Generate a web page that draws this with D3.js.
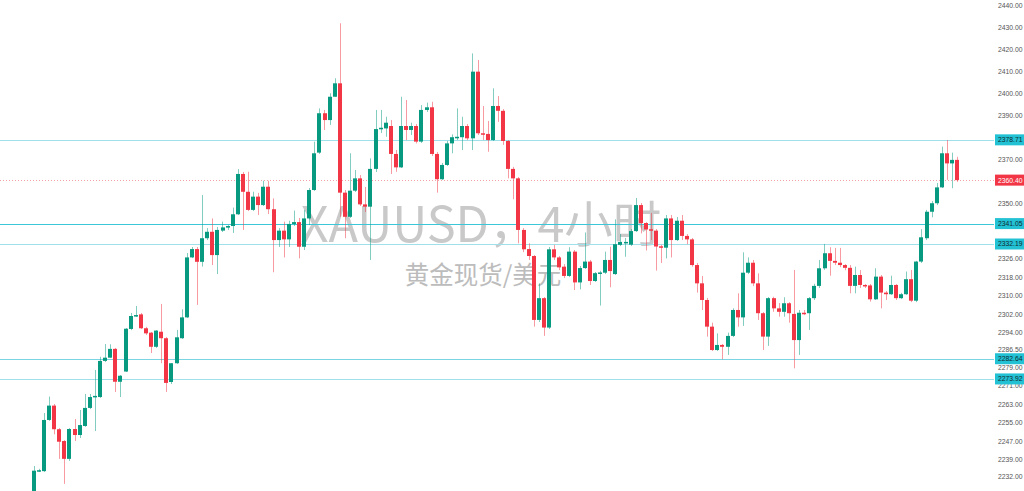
<!DOCTYPE html>
<html>
<head>
<meta charset="utf-8">
<script src="https://cdn.jsdelivr.net/npm/d3@7/dist/d3.min.js"></script>
<style>
  html, body { margin: 0; padding: 0; background: #ffffff; }
  svg { display: block; }
</style>
</head>
<body>
<svg id="chart" width="1024" height="491"></svg>
<script>
// ---- data (4H XAUUSD candles) ----
const opens = [
2221.7,2234.3,2234.1,2256.2,2262.4,2252.2,2247.1,2239.4,2252.3,2249.7,
2253.6,2261.4,2266.1,2266.1,2281.7,2283.1,2286.9,2272.7,2277.1,2295.5,
2301.1,2301.8,2295.8,2293.9,2287.8,2294.3,2291.5,2272.6,2280.7,2291.5,
2300.5,2326.4,2330.0,2324.5,2334.7,2337.5,2327.4,2338.0,2339.3,2340.0,
2345.1,2363.2,2355.1,2347.0,2352.9,2349.1,2357.4,2347.3,2333.9,2338.0,
2334.2,2340.9,2341.7,2331.0,2343.3,2355.9,2372.9,2390.8,2387.7,2398.3,
2404.4,2354.7,2344.0,2355.6,2361.2,2349.4,2348.4,2365.5,2383.5,2383.9,
2385.0,2372.3,2366.2,2385.0,2383.2,2385.0,2377.9,2392.3,2393.5,2372.3,
2360.8,2367.3,2377.1,2379.4,2379.9,2385.0,2379.4,2409.7,2381.7,2381.4,
2378.6,2394.1,2391.9,2378.2,2365.5,2361.2,2338.3,2330.0,2327.0,2299.4,
2308.8,2296.1,2329.9,2326.4,2322.4,2318.4,2328.9,2315.6,2321.8,2324.6,
2316.2,2319.7,2319.8,2325.3,2319.2,2331.8,2332.6,2331.9,2337.8,2349.1,
2341.3,2338.6,2338.0,2331.2,2330.6,2343.3,2333.9,2342.3,2335.7,2334.2,
2323.1,2315.2,2308.0,2296.5,2286.4,2288.6,2287.8,2292.5,2303.7,2300.5,
2319.8,2324.1,2315.2,2302.3,2292.2,2308.8,2304.4,2302.9,2306.6,2302.0,
2290.7,2302.5,2302.3,2308.8,2314.1,2321.7,2328.2,2324.9,2324.1,2323.1,
2321.9,2314.1,2318.8,2314.5,2314.3,2308.3,2318.1,2311.2,2310.5,2314.5,
2308.8,2310.5,2317.0,2307.7,2324.6,2334.7,2346.2,2349.9,2357.1,2372.6,
2368.0,2369.6];
const highs = [
2236.3,2235.1,2259.2,2266.3,2263.1,2252.7,2247.5,2252.7,2256.6,2260.5,
2267.4,2267.4,2277.8,2283.5,2289.0,2288.9,2287.3,2275.6,2295.9,2302.4,
2305.4,2302.4,2296.4,2294.2,2295.0,2306.3,2292.0,2280.8,2295.1,2304.0,
2328.3,2330.9,2330.9,2353.6,2339.1,2343.3,2339.6,2341.9,2340.4,2348.0,
2365.4,2364.1,2364.2,2355.1,2354.6,2360.1,2360.1,2352.1,2339.1,2341.9,
2342.3,2346.7,2343.5,2347.0,2356.8,2377.9,2393.0,2392.3,2399.9,2406.7,
2431.7,2355.9,2372.6,2365.0,2362.7,2357.3,2370.3,2392.3,2392.3,2389.2,
2387.7,2374.1,2398.3,2396.8,2386.5,2385.9,2394.5,2395.6,2396.0,2373.2,
2368.2,2378.2,2381.2,2393.0,2389.2,2385.9,2418.0,2415.0,2394.1,2387.3,
2402.1,2398.6,2392.7,2378.6,2366.4,2361.8,2339.1,2332.5,2327.4,2315.2,
2309.3,2330.9,2331.8,2327.0,2323.5,2330.8,2329.6,2322.7,2337.2,2325.3,
2320.1,2320.6,2328.9,2331.0,2342.9,2336.5,2334.8,2338.7,2352.3,2350.0,
2341.7,2345.7,2338.7,2331.8,2344.8,2344.8,2343.9,2344.8,2336.5,2334.8,
2324.0,2318.4,2308.9,2298.2,2293.6,2289.0,2293.9,2304.4,2310.9,2328.6,
2326.4,2325.3,2319.5,2302.8,2309.3,2309.4,2306.7,2309.2,2307.1,2321.0,
2303.7,2303.7,2309.3,2315.0,2325.3,2332.2,2330.8,2330.5,2330.5,2323.5,
2323.1,2322.4,2320.9,2314.9,2314.9,2321.7,2318.8,2311.9,2318.5,2314.9,
2311.1,2320.3,2321.0,2324.9,2338.6,2347.0,2350.9,2359.1,2375.6,2378.6,
2372.9,2371.0];
const lows = [
2219.5,2233.7,2233.7,2255.8,2250.0,2239.4,2228.6,2238.5,2247.1,2248.4,
2253.2,2260.9,2251.4,2265.7,2281.2,2283.0,2268.3,2266.1,2276.9,2295.0,
2300.7,2295.5,2292.9,2285.1,2287.3,2280.7,2268.3,2271.7,2280.4,2291.2,
2300.2,2326.1,2305.9,2322.4,2333.9,2323.1,2319.2,2337.4,2338.3,2337.0,
2344.8,2338.3,2346.5,2346.5,2344.8,2348.7,2345.2,2320.0,2330.9,2326.4,
2330.9,2340.0,2326.0,2329.6,2340.4,2355.5,2372.3,2383.2,2385.5,2398.2,
2344.0,2334.7,2343.5,2355.0,2348.7,2346.1,2325.3,2364.1,2381.8,2380.1,
2363.2,2364.2,2365.9,2378.6,2380.9,2377.1,2377.3,2391.4,2371.4,2354.7,
2360.5,2366.8,2372.6,2378.6,2374.1,2378.6,2374.1,2380.9,2378.6,2373.3,
2378.2,2386.9,2376.4,2361.2,2351.7,2332.5,2328.7,2325.3,2296.5,2298.5,
2292.5,2295.5,2325.3,2320.9,2317.5,2317.9,2312.3,2312.6,2321.4,2314.5,
2315.8,2305.6,2319.2,2313.5,2318.8,2331.3,2326.7,2331.3,2337.4,2336.8,
2329.4,2333.9,2320.7,2324.0,2326.0,2326.4,2333.5,2333.9,2332.1,2322.4,
2311.2,2303.7,2292.2,2286.0,2286.0,2282.4,2284.3,2292.0,2296.5,2296.8,
2319.2,2314.0,2299.4,2286.4,2288.2,2302.9,2300.8,2300.8,2298.2,2278.5,
2284.3,2301.5,2295.1,2308.0,2313.2,2321.0,2318.5,2323.1,2322.2,2320.9,
2310.9,2310.9,2313.2,2313.2,2307.3,2308.0,2304.4,2308.0,2310.2,2308.0,
2308.4,2310.2,2307.1,2307.1,2324.0,2333.9,2343.8,2349.1,2356.8,2360.5,
2356.7,2359.6];
const closes = [
2234.3,2234.5,2256.2,2262.4,2252.2,2246.8,2239.4,2252.3,2249.7,2254.0,
2261.4,2266.1,2266.6,2281.7,2283.1,2286.9,2272.7,2275.3,2295.6,2301.1,
2301.5,2295.8,2293.6,2287.8,2294.8,2291.5,2272.2,2280.7,2291.9,2300.5,
2326.4,2330.0,2324.5,2334.7,2337.5,2327.4,2338.3,2339.4,2340.0,2345.1,
2363.2,2355.1,2347.0,2352.9,2349.1,2357.4,2347.3,2333.9,2338.0,2334.2,
2340.9,2341.7,2331.0,2343.3,2355.9,2372.6,2390.8,2387.7,2398.3,2404.4,
2354.7,2344.0,2355.6,2361.2,2349.4,2348.4,2365.5,2383.6,2384.2,2386.5,
2372.3,2366.2,2385.0,2383.2,2385.0,2377.9,2392.3,2393.5,2372.3,2360.8,
2367.3,2377.1,2379.9,2380.1,2385.0,2379.4,2409.7,2381.7,2381.4,2378.6,
2394.1,2391.9,2378.2,2365.5,2361.2,2338.3,2329.9,2327.0,2299.4,2308.8,
2296.1,2329.9,2326.4,2322.1,2318.4,2328.9,2315.6,2321.8,2324.6,2316.2,
2319.6,2319.9,2325.3,2320.5,2332.1,2333.1,2333.1,2337.8,2349.1,2341.3,
2338.5,2338.0,2331.1,2330.6,2343.3,2333.9,2342.3,2335.7,2334.2,2323.1,
2315.2,2308.0,2296.5,2286.4,2288.6,2287.8,2292.5,2303.7,2300.5,2319.8,
2324.1,2315.2,2302.3,2292.2,2308.8,2304.4,2302.9,2306.6,2302.3,2290.7,
2302.5,2302.3,2308.8,2314.1,2321.7,2328.2,2324.9,2324.1,2323.1,2321.9,
2314.1,2318.8,2314.5,2314.1,2308.3,2318.1,2311.2,2310.5,2314.5,2308.8,
2310.5,2317.0,2307.7,2324.6,2335.1,2346.2,2349.9,2357.1,2372.6,2368.0,
2369.6,2360.4];

const axisTicks = [2440,2430,2420,2410,2400,2390,2370,2350,
  2326,2318,2310,2302,2294,2286.5,2279,2271,2263,2255,2247,2239,2232,2224];
const levels = [2378.71, 2341.05, 2332.19, 2282.64, 2273.92];
const levelStrength = ["light","strong","light","mid","light"];
const lastPrice = 2360.40;
const titleText = "XAUUSD，4小时";
const subtitleText = "黄金现货/美元";

// ---- layout ----
const W = 1024, H = 491;
const paneRight = 994;
const svg = d3.select("#chart");

const bars = d3.range(opens.length);
const step = 5.095;
const x = d3.scaleBand()
  .domain(bars)
  .range([34.3 - step / 2, 34.3 - step / 2 + step * bars.length])
  .paddingInner(0.24);

// price scale (piecewise, matching the pictured axis spacing)
const y = d3.scaleLinear()
  .domain([2440, 2350, 2332.19, 2232])
  .range([5, 203, 244, 476]);

const GREEN = "#089981", RED = "#f23645";

// watermark
const wm = svg.append("g").attr("font-family", "'Noto Sans CJK SC', 'Noto Sans', sans-serif")
  .attr("text-anchor", "middle");
wm.append("text").attr("x", 481).attr("y", 242)
  .attr("font-size", 48.5).attr("fill", "#c9c9c9").text(titleText);
wm.append("text").attr("x", 483).attr("y", 284)
  .attr("font-size", 24.5).attr("fill", "#bcbcbc").text(subtitleText);

// level lines
const levelColor = { light: "#9fe0ea", strong: "#3cc6d8", mid: "#7ad4e2" };
svg.append("g").selectAll("line").data(levels).join("line")
  .attr("x1", 0).attr("x2", paneRight)
  .attr("y1", d => Math.round(y(d)) + 0.5).attr("y2", d => Math.round(y(d)) + 0.5)
  .attr("stroke", (d, i) => levelColor[levelStrength[i]])
  .attr("stroke-width", 1.2);

// last price dotted line
svg.append("line")
  .attr("x1", 0).attr("x2", paneRight)
  .attr("y1", Math.round(y(lastPrice)) + 0.5).attr("y2", Math.round(y(lastPrice)) + 0.5)
  .attr("stroke", "#f4a0a8").attr("stroke-width", 1).attr("stroke-dasharray", "1,2");

// candles
const cg = svg.append("g");
const candle = cg.selectAll("g").data(bars).join("g");
candle.append("line")
  .attr("x1", i => Math.round(x(i) + x.bandwidth() / 2) + 0.5)
  .attr("x2", i => Math.round(x(i) + x.bandwidth() / 2) + 0.5)
  .attr("y1", i => y(highs[i]))
  .attr("y2", i => y(lows[i]))
  .attr("stroke", i => closes[i] >= opens[i] ? GREEN : RED)
  .attr("stroke-opacity", 0.5)
  .attr("stroke-width", 1);
candle.append("rect")
  .attr("x", i => Math.round(x(i)))
  .attr("width", Math.round(x.bandwidth()))
  .attr("y", i => y(Math.max(opens[i], closes[i])))
  .attr("height", i => Math.max(1.5, Math.abs(y(opens[i]) - y(closes[i]))))
  .attr("fill", i => closes[i] >= opens[i] ? GREEN : RED);

// right axis
const axis = d3.axisRight(y).tickValues(axisTicks)
  .tickFormat(d3.format(".2f")).tickSize(0).tickPadding(0);
const ag = svg.append("g").attr("transform", `translate(998,0)`).call(axis);
ag.select(".domain").remove();
ag.selectAll("text")
  .attr("font-family", "'Liberation Sans', Arial, sans-serif")
  .attr("font-size", 6.8).attr("fill", "#555").attr("x", 0);

// level labels
const lab = svg.append("g").attr("font-family", "'Liberation Sans', Arial, sans-serif").attr("font-size", 6.8);
levels.forEach(v => {
  const cy = y(v);
  lab.append("rect").attr("x", 995).attr("y", cy - 5.5).attr("width", 29).attr("height", 11)
    .attr("fill", "#22c1d4");
  lab.append("text").attr("x", 998).attr("y", cy).attr("dy", "0.35em")
    .attr("fill", "#102a30").text(d3.format(".2f")(v));
});
{
  const cy = y(lastPrice);
  lab.append("rect").attr("x", 995).attr("y", cy - 5.5).attr("width", 29).attr("height", 11)
    .attr("fill", RED);
  lab.append("text").attr("x", 998).attr("y", cy).attr("dy", "0.35em")
    .attr("fill", "#ffffff").text(d3.format(".2f")(lastPrice));
}
</script>
</body>
</html>
